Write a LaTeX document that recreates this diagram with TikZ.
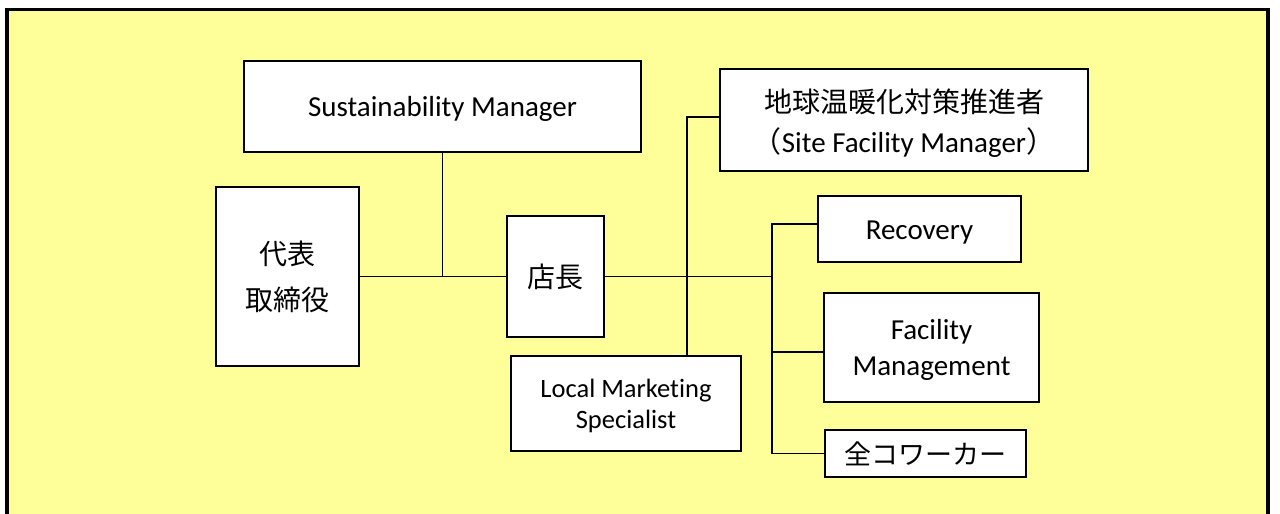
\documentclass[tikz,border=0pt]{standalone}
\usepackage{fontspec}
\setmainfont{Carlito}[Ligatures=NoCommon]
\newfontfamily\jp{Noto Sans CJK JP}
\usetikzlibrary{calc}
\definecolor{bgyellow}{HTML}{FFFF99}
\newcommand\topstr[1]{\rule{0pt}{#1pt}}
\newcommand\botstr[1]{\rule[-#1pt]{0pt}{#1pt}}
\tikzset{
  box/.style={draw, line width=1.5pt, fill=white, inner sep=0pt, align=center},
  conn/.style={line width=1.2pt},
  lat/.style={font=\fontsize{29}{36}\selectfont},
  jpf/.style={font=\jp\fontsize{28}{46}\selectfont},
}
\begin{document}
\begin{tikzpicture}[x=1pt,y=-1pt]
\useasboundingbox (0,0) rectangle (1280,514);
\clip (0,0) rectangle (1280,514);
\draw[line width=3.5pt, fill=bgyellow] (7,9.5) rectangle (1268,540);

\node[box, lat, minimum width=397pt, minimum height=91pt] (sust) at (442.5,106.5) {\topstr{26}Sustainability Manager\botstr{7}};
\node[box, jpf, minimum width=143pt, minimum height=179pt] (ceo) at (287.5,276.5) {代表\\取締役};
\node[box, jpf, minimum width=97pt, minimum height=121pt] (store) at (555.5,276.5) {店長};
\node[box, font=\fontsize{26.5}{31}\selectfont, minimum width=230pt, minimum height=95pt] (lm) at (626,403.5) {\topstr{26.4}Local Marketing\\Specialist\botstr{7}};
\node[box, font=\fontsize{29}{40.5}\selectfont, minimum width=368pt, minimum height=102pt] (site) at (904,120) {{\jp\fontsize{28}{40.5}\selectfont\topstr{31}地球温暖化対策推進者}\\{\jp （}Site Facility Manager{\jp ）}\botstr{6.5}};
\node[box, lat, minimum width=203pt, minimum height=66pt] (rec) at (919.5,229) {\topstr{27.6}Recovery\botstr{7}};
\node[box, lat, minimum width=215pt, minimum height=109pt] (fm) at (931.5,347.5) {\topstr{27.4}Facility\\Management\botstr{7}};
\node[box, font=\jp\fontsize{27}{32}\selectfont, minimum width=201pt, minimum height=47pt] (cw) at (925.5,453.5) {全コワーカー};

\coordinate (bus) at (772,276.5);
\coordinate (x687) at (687,0);
\coordinate (recin) at ($(rec.west)+(0,-5)$);
\coordinate (fmin) at ($(fm.west)+(0,4.5)$);
\coordinate (sitein) at ($(site.west)+(0,-3)$);

\draw[conn] (ceo.east) -- (store.west);
\draw[conn] (sust.south) -- (sust.south |- ceo.east);
\draw[conn] (store.east) -- (bus);
\draw[conn] (recin) -| (bus |- cw.west) -- (cw.west);
\draw[conn] (bus |- fmin) -- (fmin);
\draw[conn] (sitein) -| (lm.north -| x687);
\end{tikzpicture}
\end{document}
